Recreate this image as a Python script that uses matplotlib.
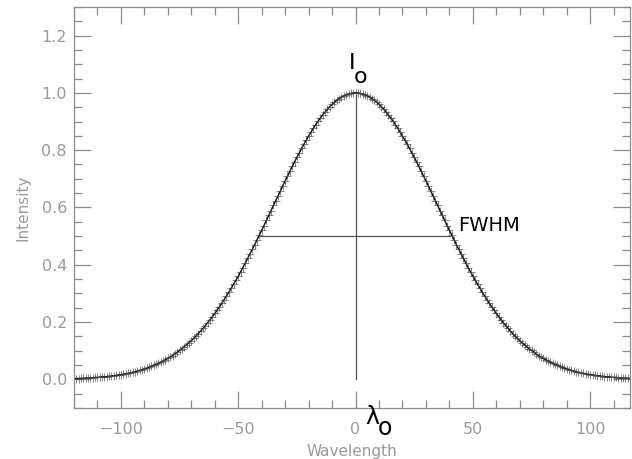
# Gaussian line profile with FWHM marked

import numpy as np
import matplotlib
matplotlib.use('Agg')
import matplotlib.pyplot as plt
from matplotlib.ticker import MultipleLocator

# wavelength grid (1 unit steps) and intensity
wavelength = np.arange(-120, 121)
intensity = [0.003, 0.003, 0.003, 0.004, 0.004, 0.005, 0.005, 0.005, 0.006, 0.007,
             0.007, 0.008, 0.009, 0.009, 0.010, 0.011, 0.012, 0.013, 0.014, 0.016,
             0.017, 0.018, 0.020, 0.021, 0.023, 0.025, 0.027, 0.029, 0.032, 0.034,
             0.037, 0.039, 0.042, 0.046, 0.049, 0.052, 0.056, 0.060, 0.064, 0.069,
             0.073, 0.078, 0.083, 0.089, 0.095, 0.101, 0.107, 0.114, 0.121, 0.128,
             0.135, 0.143, 0.151, 0.160, 0.169, 0.178, 0.188, 0.198, 0.208, 0.219,
             0.230, 0.242, 0.253, 0.266, 0.278, 0.291, 0.304, 0.318, 0.332, 0.346,
             0.360, 0.375, 0.390, 0.406, 0.422, 0.438, 0.454, 0.470, 0.487, 0.504,
             0.520, 0.537, 0.555, 0.572, 0.589, 0.607, 0.624, 0.641, 0.658, 0.676,
             0.693, 0.709, 0.726, 0.743, 0.759, 0.775, 0.790, 0.806, 0.821, 0.835,
             0.849, 0.863, 0.876, 0.889, 0.901, 0.912, 0.923, 0.933, 0.943, 0.952,
             0.960, 0.967, 0.974, 0.980, 0.985, 0.990, 0.993, 0.996, 0.998, 1.000,
             1.000,
             1.000, 0.998, 0.996, 0.993, 0.990, 0.985, 0.980, 0.974, 0.967, 0.960,
             0.952, 0.943, 0.933, 0.923, 0.912, 0.901, 0.889, 0.876, 0.863, 0.849,
             0.835, 0.821, 0.806, 0.790, 0.775, 0.759, 0.743, 0.726, 0.709, 0.693,
             0.676, 0.658, 0.641, 0.624, 0.607, 0.589, 0.572, 0.555, 0.537, 0.520,
             0.504, 0.487, 0.470, 0.454, 0.438, 0.422, 0.406, 0.390, 0.375, 0.360,
             0.346, 0.332, 0.318, 0.304, 0.291, 0.278, 0.266, 0.253, 0.242, 0.230,
             0.219, 0.208, 0.198, 0.188, 0.178, 0.169, 0.160, 0.151, 0.143, 0.135,
             0.128, 0.121, 0.114, 0.107, 0.101, 0.095, 0.089, 0.083, 0.078, 0.073,
             0.069, 0.064, 0.060, 0.056, 0.052, 0.049, 0.046, 0.042, 0.039, 0.037,
             0.034, 0.032, 0.029, 0.027, 0.025, 0.023, 0.021, 0.020, 0.018, 0.017,
             0.016, 0.014, 0.013, 0.012, 0.011, 0.010, 0.009, 0.009, 0.008, 0.007,
             0.007, 0.006, 0.005, 0.005, 0.005, 0.004, 0.004, 0.003, 0.003, 0.003]

peak_center = 0.0
peak_intensity = 1.0
half_max = 0.5
fwhm_left, fwhm_right = -41, 41

grey = '#8c8c8c'
label_grey = '#9a9a9a'

fig = plt.figure(figsize=(6.32, 4.59), dpi=100)
ax = fig.add_axes([0.117, 0.111, 0.880, 0.874])

ax.plot(wavelength, intensity, color='black', lw=1.0)
ax.plot(wavelength, intensity, marker='+', linestyle='none', color='#444444',
        markersize=5.5, markeredgewidth=0.6, alpha=0.75)

# center line and half-maximum line
ax.plot([peak_center, peak_center], [0, peak_intensity], color='#555555', lw=0.9)
ax.plot([fwhm_left, fwhm_right], [half_max, half_max], color='#555555', lw=0.9)

ax.set_xlim(-120, 117)
ax.set_ylim(-0.1, 1.3)

ax.xaxis.set_major_locator(MultipleLocator(50))
ax.xaxis.set_minor_locator(MultipleLocator(10))
ax.yaxis.set_major_locator(MultipleLocator(0.2))
ax.yaxis.set_minor_locator(MultipleLocator(0.05))
ax.yaxis.set_major_formatter(plt.FuncFormatter(lambda v, p: f'{v:.1f}'))

for side in ax.spines.values():
    side.set_color(grey)
    side.set_linewidth(0.9)
ax.tick_params(which='both', direction='in', top=True, right=True, color=grey,
               labelcolor=label_grey, labelsize=11.5, width=0.9)
ax.tick_params(which='major', length=12)
ax.tick_params(which='minor', length=6)
ax.tick_params(axis='x', pad=10)
ax.tick_params(axis='y', pad=5)

ax.set_xlabel('Wavelength', color=label_grey, fontsize=11, labelpad=5)
ax.set_ylabel('Intensity', color=label_grey, fontsize=11, labelpad=8)

# annotations
ax.text(-3.0, 1.069, 'I', fontsize=16, color='black', ha='left', va='bottom')
ax.text(-0.6, 1.022, 'o', fontsize=16, color='black', ha='left', va='bottom')
ax.text(43.8, 0.503, 'FWHM', fontsize=14, color='black', ha='left', va='bottom')
ax.text(4.0, -0.172, 'λ', fontsize=17, color='black', ha='left', va='bottom',
        clip_on=False)
ax.text(9.5, -0.212, 'o', fontsize=17, color='black', ha='left', va='bottom',
        clip_on=False)

fig.savefig('out.png', dpi=100)
